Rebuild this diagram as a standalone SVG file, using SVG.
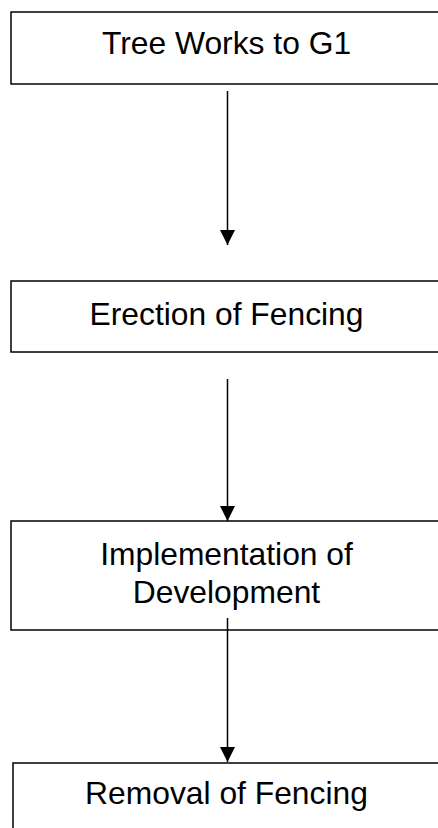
<svg xmlns="http://www.w3.org/2000/svg" width="438" height="828" viewBox="0 0 438 828">
<style>
.box{fill:#fff;stroke:#000;stroke-width:1.5}
.lbl{font-family:"Liberation Sans",Arial,sans-serif;font-size:31.8px;fill:#000;text-anchor:middle}
.con{stroke:#000;stroke-width:1.5;fill:none}
</style>
<defs>
<marker id="ah" markerUnits="userSpaceOnUse" markerWidth="16" markerHeight="16" refX="15" refY="7.5" orient="auto">
<path d="M0,0 L15,7.5 L0,15 Z" fill="#000"/>
</marker>
</defs>
<rect width="438" height="828" fill="#fff"/>
<g id="n1"><rect class="box" x="11" y="12" width="440" height="72"/><text class="lbl" x="226.5" y="53.5">Tree Works to G1</text></g>
<g id="n2"><rect class="box" x="11" y="281" width="440" height="71"/><text class="lbl" x="226.5" y="325">Erection of Fencing</text></g>
<g id="n3"><rect class="box" x="11" y="521" width="440" height="109"/><text class="lbl" x="226.5" y="565">Implementation of</text><text class="lbl" x="226.5" y="603">Development</text></g>
<g id="n4"><rect class="box" x="13" y="763" width="440" height="80"/><text class="lbl" x="226.5" y="804">Removal of Fencing</text></g>
<g id="connectors">
<line class="con" x1="227.5" y1="91" x2="227.5" y2="245" marker-end="url(#ah)"/>
<line class="con" x1="227.5" y1="379" x2="227.5" y2="521" marker-end="url(#ah)"/>
<line class="con" x1="227.5" y1="618" x2="227.5" y2="762" marker-end="url(#ah)"/>
</g>
</svg>
